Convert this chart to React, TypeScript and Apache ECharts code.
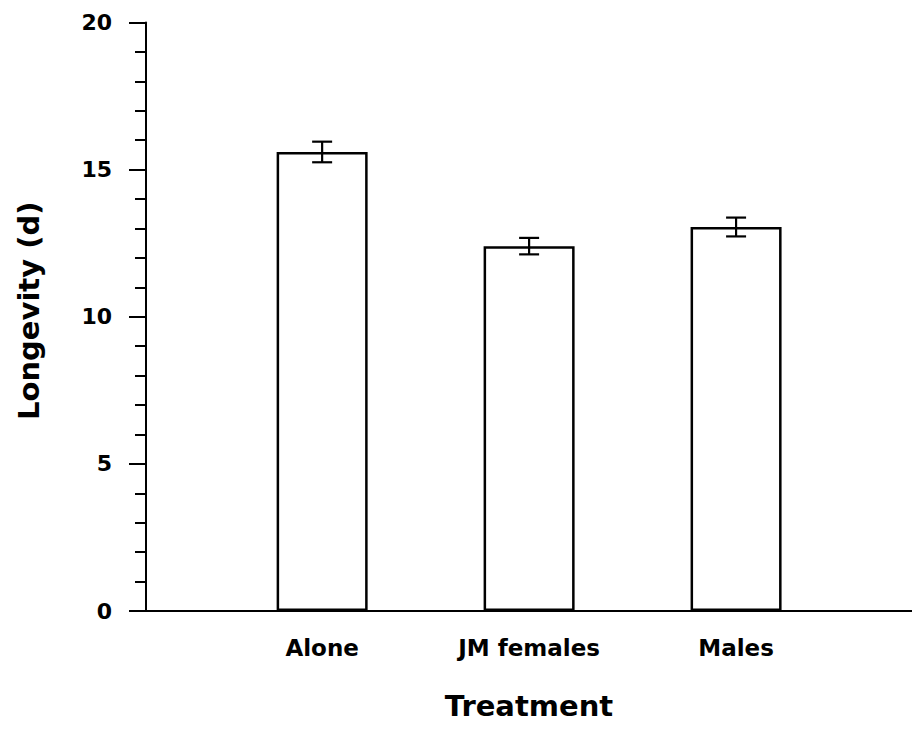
import React, { useEffect, useRef } from "react";
import * as echarts from "echarts";

// Mean longevity (days) per treatment, with standard errors
const categories = ["Alone", "JM females", "Males"];
const means = [15.6, 12.4, 13.05];
const stdErrors = [0.35, 0.28, 0.32];

const FONT = "DejaVu Sans";

export default function App() {
  const ref = useRef<HTMLDivElement>(null);

  useEffect(() => {
    if (!ref.current) return;
    const chart = echarts.init(ref.current, null, { renderer: "svg" });

    const barData = means.map((m, i) => [i + 1, m]);
    const errData = means.map((m, i) => [i + 1, m - stdErrors[i], m + stdErrors[i]]);

    chart.setOption({
      animation: false,
      backgroundColor: "#ffffff",
      grid: { left: 146, right: 0, top: 22.5, bottom: 121, containLabel: false },
      xAxis: {
        type: "value",
        min: 0.149,
        max: 3.85,
        name: "Treatment",
        nameLocation: "middle",
        nameGap: 80,
        nameTextStyle: { fontFamily: FONT, fontWeight: "bold", fontSize: 29, color: "#000" },
        axisLine: { show: true, lineStyle: { color: "#000", width: 2 } },
        axisTick: { show: false },
        splitLine: { show: false },
        axisLabel: {
          customValues: [1, 2, 3],
          formatter: (v: number) => categories[Math.round(v) - 1] ?? "",
          fontFamily: FONT,
          fontWeight: "bold",
          fontSize: 23,
          color: "#000",
          margin: 25,
        },
      },
      yAxis: {
        type: "value",
        min: 0,
        max: 20,
        interval: 5,
        name: "Longevity (d)",
        nameLocation: "middle",
        nameGap: 103,
        nameTextStyle: { fontFamily: FONT, fontWeight: "bold", fontSize: 29, color: "#000", padding: [0, 0, 0, 12] },
        axisLine: { show: true, lineStyle: { color: "#000", width: 2 } },
        axisTick: { show: true, inside: false, length: 17, lineStyle: { color: "#000", width: 2 } },
        minorTick: { show: true, splitNumber: 5, length: 11, lineStyle: { color: "#000", width: 2 } },
        splitLine: { show: false },
        axisLabel: {
          fontFamily: FONT,
          fontWeight: "bold",
          fontSize: 22,
          color: "#000",
          margin: 34,
        },
      },
      series: [
        {
          type: "bar",
          data: barData,
          barWidth: 91,
          itemStyle: { color: "#ffffff", borderColor: "#000", borderWidth: 2.5 },
          silent: true,
        },
        {
          type: "custom",
          data: errData,
          z: 5,
          renderItem: (params: any, api: any) => {
            const x = api.value(0);
            const lo = api.coord([x, api.value(1)]);
            const hi = api.coord([x, api.value(2)]);
            const half = 10;
            const style = { stroke: "#000", lineWidth: 2.2 };
            return {
              type: "group",
              children: [
                { type: "line", shape: { x1: lo[0], y1: lo[1], x2: hi[0], y2: hi[1] }, style },
                { type: "line", shape: { x1: lo[0] - half, y1: lo[1], x2: lo[0] + half, y2: lo[1] }, style },
                { type: "line", shape: { x1: hi[0] - half, y1: hi[1], x2: hi[0] + half, y2: hi[1] }, style },
              ],
            };
          },
        },
      ],
    });

    return () => chart.dispose();
  }, []);

  return <div ref={ref} style={{ width: 912, height: 732, position: "absolute", left: 0, top: 0 }} />;
}
